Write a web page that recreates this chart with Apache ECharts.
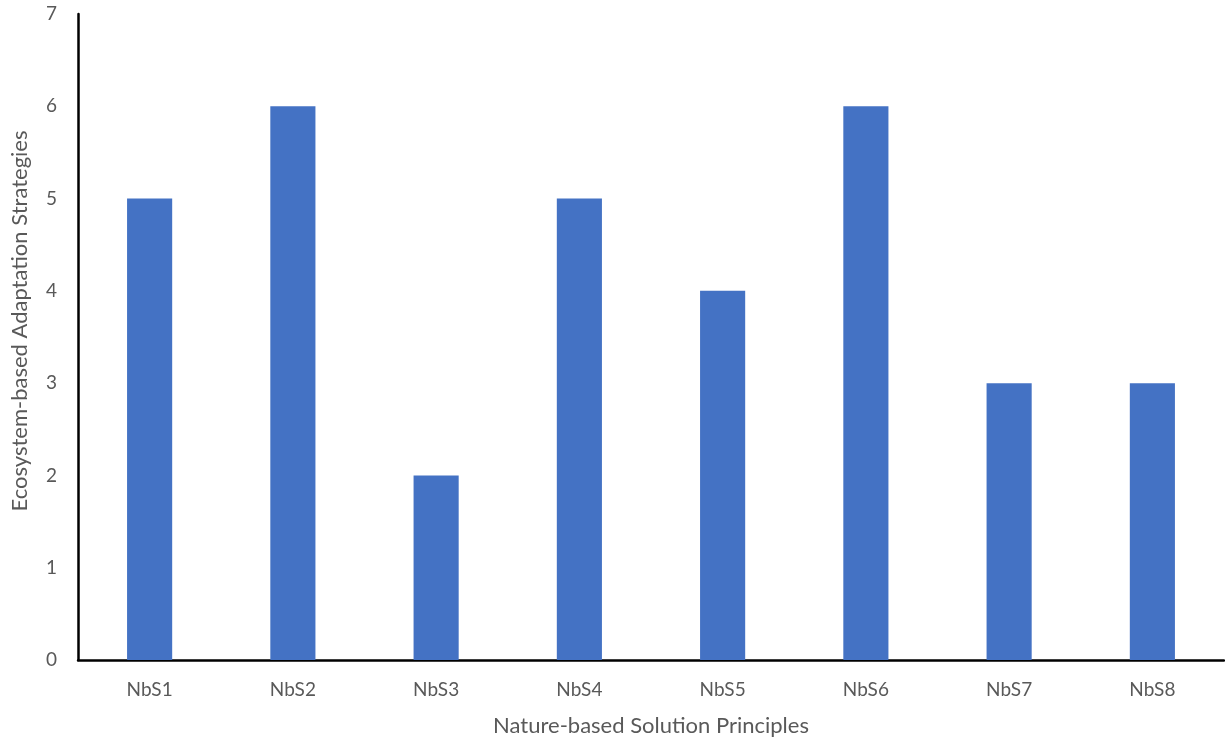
<!DOCTYPE html>
<html>
<head>
<meta charset="utf-8">
<script src="https://cdn.jsdelivr.net/npm/echarts@6/dist/echarts.min.js"></script>
<style>
  html, body { margin: 0; padding: 0; background: #ffffff; }
  #chart { width: 1225px; height: 742px; }
</style>
</head>
<body>
<div id="chart"></div>
<script>
// Principles on the x axis and number of EbA strategies linked to each
const categories = ['NbS1', 'NbS2', 'NbS3', 'NbS4', 'NbS5', 'NbS6', 'NbS7', 'NbS8'];
const strategyCounts = [5, 6, 2, 5, 4, 6, 3, 3];
const yTicks = [0, 1, 2, 3, 4, 5, 6, 7];

const labelFont = 'Lato, "Open Sans", sans-serif';
const chart = echarts.init(document.getElementById('chart'), null, { renderer: 'canvas' });

chart.setOption({
  animation: false,
  backgroundColor: '#ffffff',
  grid: { left: 78, right: 1, top: 14, bottom: 82, containLabel: false, outerBoundsMode: 'none' },
  xAxis: {
    type: 'category',
    data: categories,
    name: 'Nature-based Solution Principles',
    nameLocation: 'middle',
    nameGap: 55,
    nameTextStyle: { fontFamily: labelFont, fontSize: 22, color: '#595959' },
    axisLine: { lineStyle: { color: '#000000', width: 2.5 } },
    axisTick: { show: false },
    axisLabel: { fontFamily: labelFont, fontSize: 19, color: '#595959', margin: 20 }
  },
  yAxis: {
    type: 'value',
    min: yTicks[0],
    max: yTicks[yTicks.length - 1],
    interval: 1,
    name: 'Ecosystem-based Adaptation Strategies',
    nameLocation: 'middle',
    nameGap: 47,
    nameTextStyle: { fontFamily: labelFont, fontSize: 22, color: '#595959', padding: [0, 0, 0, 32] },
    axisLine: { show: true, lineStyle: { color: '#000000', width: 2.5 } },
    axisTick: { show: false },
    splitLine: { show: false },
    axisLabel: { fontFamily: labelFont, fontSize: 19, color: '#595959', margin: 21 }
  },
  series: [{
    type: 'bar',
    data: strategyCounts,
    barWidth: '31.5%',
    itemStyle: { color: '#4472C4' }
  }]
});
</script>
</body>
</html>
